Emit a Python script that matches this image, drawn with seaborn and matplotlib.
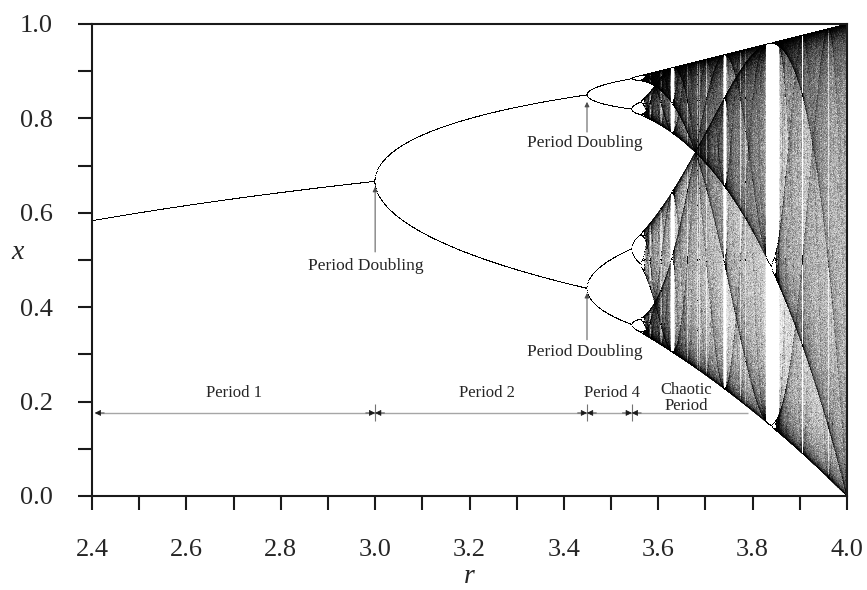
"""
Bifurcation diagram of the logistic map x -> r x (1 - x).
"""

import matplotlib

matplotlib.use("Agg")
import matplotlib.pyplot as plt
import numpy as np
import pandas as pd
import seaborn as sns

# Map parameters
R_MIN, R_MAX = 2.4, 4.0
N_R = 1510          # r samples across the axis
N_TRANSIENT = 1000  # iterations thrown away
N_KEEP = 5000       # iterations kept per r
X0 = 0.5
INK = 27.0          # counts per bin that give ~63% grey

# Axis ticks
X_TICKS = [2.4, 2.6, 2.8, 3.0, 3.2, 3.4, 3.6, 3.8, 4.0]
Y_TICKS = [0.0, 0.2, 0.4, 0.6, 0.8, 1.0]

# "Period Doubling" callouts: arrow tip, arrow tail and text centre
DOUBLING_TIP_R = [3.0, 3.449, 3.449]
DOUBLING_TIP_X = [0.655, 0.835, 0.430]
DOUBLING_TAIL_X = [0.517, 0.771, 0.331]
DOUBLING_TEXT_R = [2.98, 3.445, 3.445]
DOUBLING_TEXT_X = [0.487, 0.748, 0.305]

# Period spans along the bottom
SPAN_BOUNDS = [2.406, 3.0, 3.449, 3.544, 3.79]
SPAN_LABELS = ["Period 1", "Period 2", "Period 4", "Chaotic\nPeriod"]
SPAN_LABEL_R = [2.70, 3.237, 3.502, 3.659]
SPAN_LABEL_X = [0.218, 0.218, 0.218, 0.208]
SPAN_Y = 0.176


def logistic_orbits():
    r = np.linspace(R_MIN, R_MAX, N_R)
    x = np.full_like(r, X0)
    for _ in range(N_TRANSIENT):
        x = r * x * (1 - x)
    xs = np.empty((N_KEEP, N_R), dtype=np.float32)
    for i in range(N_KEEP):
        x = r * x * (1 - x)
        xs[i] = x
    rs = np.broadcast_to(r.astype(np.float32), xs.shape)
    return pd.DataFrame({"r": rs.ravel(), "x": xs.ravel()})


sns.set_theme(style="ticks")
plt.rcParams["font.family"] = ["Liberation Serif", "DejaVu Serif"]
plt.rcParams["axes.linewidth"] = 1.5

fig = plt.figure(figsize=(8.67, 5.9), dpi=100)
ax = fig.add_axes([92 / 867, 1 - 496 / 590, 755 / 867, 472 / 590])

df = logistic_orbits()
sns.histplot(
    data=df, x="r", y="x",
    bins=(755, 472), binrange=((R_MIN, R_MAX), (0, 1)),
    cmap="Greys", ax=ax, cbar=False,
)
# ink builds up like overlapping translucent dots
mesh = ax.collections[0]
counts = mesh.get_array()
mesh.set_array(1 - np.exp(-counts / INK))
mesh.set_clim(0, 1)

ax.set_xlim(R_MIN, R_MAX)
ax.set_ylim(0, 1)
ax.set_xticks(X_TICKS)
ax.set_xticks(np.arange(2.5, 4.0, 0.2), minor=True)
ax.set_yticks(Y_TICKS)
ax.set_yticks(np.arange(0.1, 1.0, 0.2), minor=True)
ax.xaxis.set_major_formatter(matplotlib.ticker.FormatStrFormatter("%.1f"))
ax.yaxis.set_major_formatter(matplotlib.ticker.FormatStrFormatter("%.1f"))
ax.tick_params(which="both", direction="out", length=10, width=1.5, color="k")
ax.tick_params(axis="x", which="major", labelsize=19, pad=21)
ax.tick_params(axis="y", which="major", labelsize=19, pad=18)
for s in ax.spines.values():
    s.set_visible(True)
    s.set_color("k")
    s.set_linewidth(1.5)

ax.set_xlabel("r", fontsize=20, fontstyle="italic", labelpad=2)
ax.set_ylabel("x", fontsize=20, fontstyle="italic", rotation=0)
ax.yaxis.set_label_coords(-0.098, 0.49)

# Period doubling callouts
for tr, tx, tl, lr, lx in zip(DOUBLING_TIP_R, DOUBLING_TIP_X, DOUBLING_TAIL_X,
                              DOUBLING_TEXT_R, DOUBLING_TEXT_X):
    ax.annotate("", xy=(tr, tx), xytext=(tr, tl),
                arrowprops=dict(arrowstyle="-|>", color="0.3", lw=0.7,
                                mutation_scale=7, shrinkA=0, shrinkB=0))
    ax.text(lr, lx, "Period Doubling", ha="center", va="center", fontsize=12.5)

# Period spans
ax.hlines(SPAN_Y, SPAN_BOUNDS[0], SPAN_BOUNDS[-1], color="0.65", lw=1)
for b in SPAN_BOUNDS[1:-1]:
    ax.vlines(b, SPAN_Y - 0.018, SPAN_Y + 0.018, color="0.45", lw=0.8)
head = 0.02
for i in range(len(SPAN_BOUNDS) - 1):
    left, right = SPAN_BOUNDS[i], SPAN_BOUNDS[i + 1]
    ax.annotate("", xy=(left, SPAN_Y), xytext=(left + head, SPAN_Y),
                arrowprops=dict(arrowstyle="-|>", color="k", lw=0.5,
                                mutation_scale=9, shrinkA=0, shrinkB=0))
    if i < len(SPAN_BOUNDS) - 2:
        ax.annotate("", xy=(right, SPAN_Y), xytext=(right - head, SPAN_Y),
                    arrowprops=dict(arrowstyle="-|>", color="k", lw=0.5,
                                    mutation_scale=9, shrinkA=0, shrinkB=0))
for lab, lr, lx in zip(SPAN_LABELS, SPAN_LABEL_R, SPAN_LABEL_X):
    ax.text(lr, lx, lab, ha="center", va="center", fontsize=12, linespacing=0.95)

fig.savefig("out.png", dpi=100)
